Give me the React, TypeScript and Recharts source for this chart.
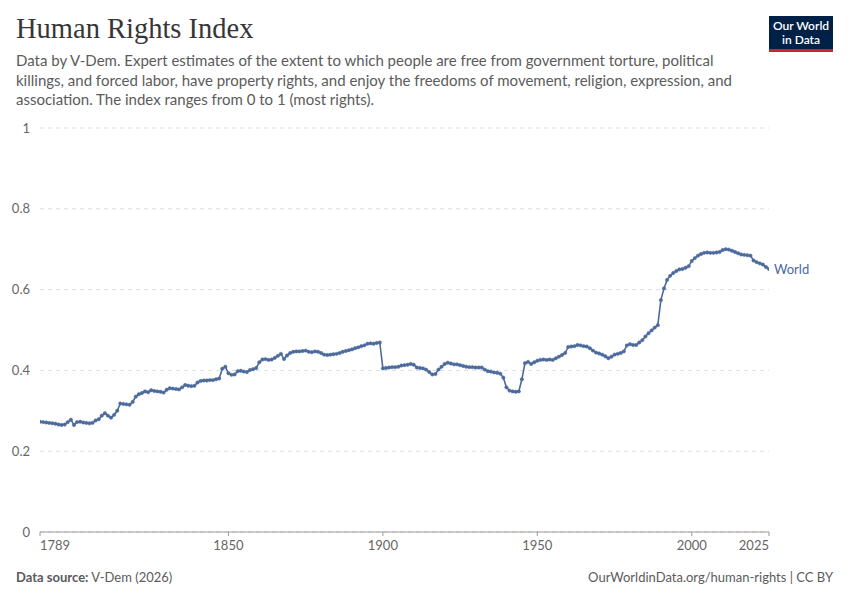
import React from 'react';
import { LineChart, Line, XAxis, YAxis, CartesianGrid, LabelList } from 'recharts';

// annual World values, one row per decade
const firstYear = 1789;
const worldValues: number[] = [
  0.273,
  0.272, 0.271, 0.270, 0.269, 0.268, 0.266, 0.265, 0.266, 0.272, 0.278, // 1790s
  0.265, 0.272, 0.273, 0.271, 0.270, 0.269, 0.270, 0.276, 0.279, 0.288, // 1800s
  0.294, 0.288, 0.283, 0.290, 0.300, 0.318, 0.317, 0.316, 0.315, 0.322, // 1810s
  0.335, 0.341, 0.344, 0.348, 0.346, 0.351, 0.349, 0.348, 0.347, 0.345, // 1820s
  0.352, 0.356, 0.355, 0.354, 0.353, 0.358, 0.364, 0.362, 0.361, 0.362, // 1830s
  0.370, 0.374, 0.375, 0.375, 0.376, 0.376, 0.378, 0.380, 0.404, 0.409, // 1840s
  0.393, 0.389, 0.390, 0.398, 0.399, 0.397, 0.396, 0.401, 0.403, 0.406, // 1850s
  0.420, 0.427, 0.428, 0.426, 0.427, 0.431, 0.436, 0.441, 0.428, 0.437, // 1860s
  0.443, 0.446, 0.447, 0.447, 0.448, 0.449, 0.446, 0.445, 0.447, 0.446, // 1870s
  0.443, 0.439, 0.438, 0.439, 0.440, 0.441, 0.443, 0.446, 0.448, 0.450, // 1880s
  0.452, 0.455, 0.457, 0.460, 0.462, 0.466, 0.467, 0.466, 0.468, 0.469, // 1890s
  0.405, 0.406, 0.407, 0.408, 0.408, 0.409, 0.412, 0.413, 0.414, 0.416, // 1900s
  0.414, 0.407, 0.406, 0.405, 0.402, 0.396, 0.390, 0.391, 0.402, 0.409, // 1910s
  0.416, 0.419, 0.417, 0.415, 0.415, 0.413, 0.411, 0.409, 0.408, 0.408, // 1920s
  0.407, 0.407, 0.407, 0.402, 0.398, 0.397, 0.395, 0.394, 0.392, 0.382, // 1930s
  0.358, 0.350, 0.348, 0.347, 0.348, 0.378, 0.418, 0.421, 0.416, 0.420, // 1940s
  0.424, 0.426, 0.427, 0.426, 0.427, 0.426, 0.430, 0.434, 0.438, 0.443, // 1950s
  0.458, 0.459, 0.460, 0.463, 0.462, 0.460, 0.459, 0.455, 0.449, 0.444, // 1960s
  0.442, 0.439, 0.435, 0.430, 0.434, 0.439, 0.441, 0.443, 0.447, 0.462, // 1970s
  0.465, 0.463, 0.463, 0.469, 0.475, 0.484, 0.492, 0.499, 0.506, 0.512, // 1980s
  0.574, 0.603, 0.624, 0.634, 0.641, 0.646, 0.650, 0.651, 0.654, 0.658, // 1990s
  0.671, 0.678, 0.684, 0.688, 0.691, 0.692, 0.691, 0.691, 0.692, 0.693, // 2000s
  0.698, 0.700, 0.699, 0.696, 0.693, 0.690, 0.687, 0.686, 0.685, 0.684, // 2010s
  0.672, 0.668, 0.665, 0.662, 0.656, 0.651, // 2020s
];

const xTicks = [1789, 1850, 1900, 1950, 2000, 2025];
const yTicks = [0, 0.2, 0.4, 0.6, 0.8, 1];

const data = worldValues.map((v, i) => ({ year: firstYear + i, world: v }));

const lineColor = '#4c6a9c';
const textColor = '#5b5b5b';
const font = 'Lato, "Noto Sans", sans-serif';

const XTick = (props: any) => {
  const { x, y, payload, index } = props;
  let anchor: 'start' | 'middle' | 'end' = 'middle';
  if (index === 0) anchor = 'start';
  if (index === xTicks.length - 1) anchor = 'end';
  return (
    <text x={x} y={y + 12} textAnchor={anchor} fill="#666" fontSize={13} fontFamily={font}>
      {payload.value}
    </text>
  );
};

const SeriesLabel = (props: any) => {
  const { x, y, index } = props;
  if (index !== data.length - 1) return null;
  return (
    <text x={x + 5} y={y + 5} fill={lineColor} fontSize={13} fontFamily={font}>
      World
    </text>
  );
};

export default function App() {
  return (
    <div style={{ position: 'absolute', left: 0, top: 0, width: 850, height: 600, background: '#fff', fontFamily: font }}>
      <div style={{ position: 'absolute', left: 16, top: 13, fontFamily: '"Liberation Serif", "DejaVu Serif", serif', fontSize: 28.5, color: '#363636' }}>
        Human Rights Index
      </div>
      <div style={{ position: 'absolute', left: 16, top: 51, width: 730, fontSize: 15, lineHeight: '19.5px', color: textColor }}>
        Data by V-Dem. Expert estimates of the extent to which people are free from government torture, political killings, and forced labor, have property rights, and enjoy the freedoms of movement, religion, expression, and association. The index ranges from 0 to 1 (most rights).
      </div>
      <div style={{ position: 'absolute', left: 769, top: 16, width: 64, height: 36, background: '#002147', color: '#fff', fontSize: 12, lineHeight: '14px', textAlign: 'center', boxSizing: 'border-box', paddingTop: 3, fontWeight: 600 }}>
        <div>Our World</div>
        <div>in Data</div>
        <div style={{ position: 'absolute', left: 0, bottom: 0, width: 64, height: 3, background: '#ce261e' }} />
      </div>

      <div style={{ position: 'absolute', left: 0, top: 110 }}>
        <LineChart width={850} height={450} data={data} margin={{ top: 18, right: 81, bottom: 0, left: 0 }}>
          <CartesianGrid horizontal vertical={false} stroke="#dddddd" strokeDasharray="4 4" />
          <XAxis
            dataKey="year"
            type="number"
            domain={[1789, 2025]}
            ticks={xTicks}
            tick={<XTick />}
            stroke="#999"
            tickSize={4}
            height={28}
            interval={0}
            allowDataOverflow
          />
          <YAxis
            type="number"
            domain={[0, 1]}
            ticks={yTicks}
            width={40}
            axisLine={false}
            tickLine={false}
            tick={{ fontSize: 13, fill: '#666', fontFamily: font }}
            tickFormatter={(v: number) => String(v)}
            tickMargin={4}
          />
          <Line
            type="linear"
            dataKey="world"
            stroke={lineColor}
            strokeWidth={1.6}
            dot={{ r: 1.7, fill: lineColor, stroke: lineColor, strokeWidth: 0.5 }}
            isAnimationActive={false}
          >
            <LabelList dataKey="world" content={<SeriesLabel />} />
          </Line>
        </LineChart>
      </div>

      <div style={{ position: 'absolute', left: 16, top: 569, fontSize: 13, color: textColor }}>
        <b>Data source:</b> V-Dem (2026)
      </div>
      <div style={{ position: 'absolute', right: 17, top: 569, fontSize: 13, color: textColor }}>
        OurWorldinData.org/human-rights | CC BY
      </div>
    </div>
  );
}
